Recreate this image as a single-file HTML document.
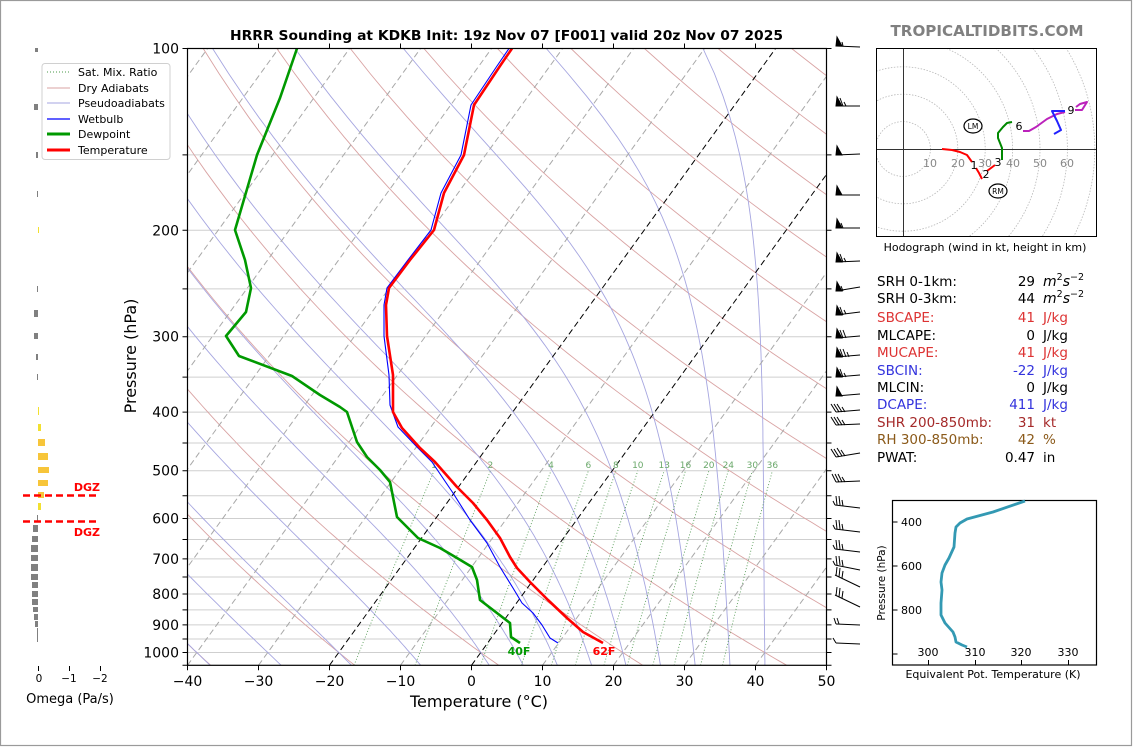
<!DOCTYPE html>
<html><head><meta charset="utf-8">
<style>
html,body{margin:0;padding:0;background:#fff;}
svg{display:block;}
text{font-family:"DejaVu Sans","Liberation Sans",sans-serif;}
.mono{font-family:"DejaVu Sans Mono","Liberation Mono",monospace;font-size:13.5px;}
</style></head><body>
<svg id="s" width="1134" height="748" viewBox="0 0 1134 748" xmlns="http://www.w3.org/2000/svg">
<rect x="0" y="0" width="1134" height="748" fill="#fff"/>
<rect x="0.5" y="0.5" width="1131" height="745" fill="none" stroke="#9a9a9a" stroke-width="1.2"/>
<defs>
<clipPath id="plot"><rect x="187.5" y="48.5" width="639" height="616.8"/></clipPath>
<clipPath id="hodo"><rect x="876.5" y="48.5" width="220" height="188"/></clipPath>
</defs>

<!-- title -->
<text x="230" y="40" font-size="13" font-weight="bold" textLength="553" lengthAdjust="spacingAndGlyphs">HRRR Sounding at KDKB Init: 19z Nov 07 [F001] valid 20z Nov 07 2025</text>
<text x="987" y="36" font-size="15" font-weight="bold" fill="#808080" text-anchor="middle" textLength="193" lengthAdjust="spacingAndGlyphs">TROPICALTIDBITS.COM</text>

<g clip-path="url(#plot)">
  <!-- isobars -->
  <g stroke="#cfcfcf" stroke-width="1">
    <line x1="187.5" x2="826.5" y1="154.9" y2="154.9"/>
    <line x1="187.5" x2="826.5" y1="230.3" y2="230.3"/>
    <line x1="187.5" x2="826.5" y1="288.9" y2="288.9"/>
    <line x1="187.5" x2="826.5" y1="336.7" y2="336.7"/>
    <line x1="187.5" x2="826.5" y1="377.1" y2="377.1"/>
    <line x1="187.5" x2="826.5" y1="412.1" y2="412.1"/>
    <line x1="187.5" x2="826.5" y1="443.0" y2="443.0"/>
    <line x1="187.5" x2="826.5" y1="470.7" y2="470.7"/>
    <line x1="187.5" x2="826.5" y1="495.7" y2="495.7"/>
    <line x1="187.5" x2="826.5" y1="518.5" y2="518.5"/>
    <line x1="187.5" x2="826.5" y1="539.5" y2="539.5"/>
    <line x1="187.5" x2="826.5" y1="558.9" y2="558.9"/>
    <line x1="187.5" x2="826.5" y1="577.0" y2="577.0"/>
    <line x1="187.5" x2="826.5" y1="594.0" y2="594.0"/>
    <line x1="187.5" x2="826.5" y1="609.9" y2="609.9"/>
    <line x1="187.5" x2="826.5" y1="624.9" y2="624.9"/>
    <line x1="187.5" x2="826.5" y1="639.0" y2="639.0"/>
    <line x1="187.5" x2="826.5" y1="652.5" y2="652.5"/>
  </g>
  <g id="bg"></g>
  <!-- isotherms -->
  <g stroke="#a8a8a8" stroke-width="1" stroke-dasharray="6,3.5" fill="none">
    <line x1="-238.5" y1="665.3" x2="207.6" y2="48.5"/>
    <line x1="-167.5" y1="665.3" x2="278.6" y2="48.5"/>
    <line x1="-96.5" y1="665.3" x2="349.6" y2="48.5"/>
    <line x1="-25.5" y1="665.3" x2="420.6" y2="48.5"/>
    <line x1="45.5" y1="665.3" x2="491.6" y2="48.5"/>
    <line x1="116.5" y1="665.3" x2="562.6" y2="48.5"/>
    <line x1="187.5" y1="665.3" x2="633.6" y2="48.5"/>
    <line x1="258.5" y1="665.3" x2="704.6" y2="48.5"/>
    <line x1="400.5" y1="665.3" x2="846.6" y2="48.5"/>
    <line x1="542.5" y1="665.3" x2="988.6" y2="48.5"/>
    <line x1="613.5" y1="665.3" x2="1059.6" y2="48.5"/>
    <line x1="684.5" y1="665.3" x2="1130.6" y2="48.5"/>
    <line x1="755.5" y1="665.3" x2="1201.6" y2="48.5"/>
  </g>
  <g stroke="#000" stroke-width="1" stroke-dasharray="6,3.5" fill="none">
    <line x1="329.5" y1="665.3" x2="775.6" y2="48.5"/>
    <line x1="471.5" y1="665.3" x2="917.6" y2="48.5"/>
  </g>
  <!-- mixing ratio labels -->
  <g font-size="9" fill="#6aa86a" text-anchor="middle">
    <text x="434" y="468">1</text>
    <text x="490.4" y="468">2</text>
    <text x="551" y="468">4</text>
    <text x="588.4" y="468">6</text>
    <text x="615.9" y="468">8</text>
    <text x="637.8" y="468">10</text>
    <text x="664.2" y="468">13</text>
    <text x="685.5" y="468">16</text>
    <text x="708.8" y="468">20</text>
    <text x="728.3" y="468">24</text>
    <text x="752.4" y="468">30</text>
    <text x="772.4" y="468">36</text>
  </g>
  <!-- dewpoint -->
  <polyline fill="none" stroke="#009900" stroke-width="2.6" stroke-linejoin="round" points="297,48.5 280,98 257,155 235,230 245,260 251,288 246,312 226,336 239,356 292,376 320,395 340,407 347,412 357,442 367,457 380,470 390,482 397,517 418,538 440,548 457,558 472,567 477,580 480,600 510,623 511,637 520,643"/>
  <!-- wetbulb -->
  <polyline fill="none" stroke="#0000ff" stroke-width="1.1" stroke-linejoin="round" points="509,48.5 497,66 471,105 461,155 441,193 431,230 408,260 387,288 384,305 384,336 389,375 390,405 398,427 417,447 432,462 453,493 470,520 487,543 500,567 513,588 522,603 533,613 542,625 550,638 558,643"/>
  <!-- temperature -->
  <polyline fill="none" stroke="#ff0000" stroke-width="2.6" stroke-linejoin="round" points="512,48.5 500,66 474,105 464,155 444,193 434,230 410,260 389,288 386,305 387,336 393,375 393,412 402,428 420,448 435,462 457,487 473,503 487,520 500,538 510,557 517,568 530,582 548,600 567,618 583,632 603,643"/>
</g>
<text x="519" y="655" font-size="11" font-weight="bold" fill="#009900" text-anchor="middle">40F</text>
<text x="604" y="655" font-size="11" font-weight="bold" fill="#ff0000" text-anchor="middle">62F</text>

<!-- axes frame -->
<rect x="187.5" y="48.5" width="639" height="616.8" fill="none" stroke="#000" stroke-width="1.2"/>
<g stroke="#000" stroke-width="1">
  <path d="M182.5 48.5H187.5M182.5 154.9H187.5M182.5 230.3H187.5M182.5 288.9H187.5M182.5 336.7H187.5M182.5 377.1H187.5M182.5 412.1H187.5M182.5 443H187.5M182.5 470.7H187.5M182.5 495.7H187.5M182.5 518.5H187.5M182.5 539.5H187.5M182.5 558.9H187.5M182.5 577H187.5M182.5 594H187.5M182.5 609.9H187.5M182.5 624.9H187.5M182.5 639H187.5M182.5 652.5H187.5M182.5 665.3H187.5"/>
  <path d="M826.5 48.5H831.5M826.5 154.9H831.5M826.5 230.3H831.5M826.5 288.9H831.5M826.5 336.7H831.5M826.5 377.1H831.5M826.5 412.1H831.5M826.5 443H831.5M826.5 470.7H831.5M826.5 495.7H831.5M826.5 518.5H831.5M826.5 539.5H831.5M826.5 558.9H831.5M826.5 577H831.5M826.5 594H831.5M826.5 609.9H831.5M826.5 624.9H831.5M826.5 639H831.5M826.5 652.5H831.5M826.5 665.3H831.5"/>
  <path d="M258.5 48.5V43.5M329.5 48.5V43.5M400.5 48.5V43.5M471.5 48.5V43.5M542.5 48.5V43.5M613.5 48.5V43.5M684.5 48.5V43.5M755.5 48.5V43.5"/>
  <path d="M187.5 665.3V670.3M258.5 665.3V670.3M329.5 665.3V670.3M400.5 665.3V670.3M471.5 665.3V670.3M542.5 665.3V670.3M613.5 665.3V670.3M684.5 665.3V670.3M755.5 665.3V670.3M826.5 665.3V670.3"/>
</g>
<g font-size="14" text-anchor="end">
  <text x="179" y="53.5">100</text>
  <text x="179" y="235.3">200</text>
  <text x="179" y="341.7">300</text>
  <text x="179" y="417.1">400</text>
  <text x="179" y="475.7">500</text>
  <text x="179" y="523.5">600</text>
  <text x="179" y="563.9">700</text>
  <text x="179" y="599">800</text>
  <text x="179" y="629.9">900</text>
  <text x="179" y="657.5">1000</text>
</g>
<g font-size="14" text-anchor="middle">
  <text x="187.5" y="686">−40</text>
  <text x="258.5" y="686">−30</text>
  <text x="329.5" y="686">−20</text>
  <text x="400.5" y="686">−10</text>
  <text x="471.5" y="686">0</text>
  <text x="542.5" y="686">10</text>
  <text x="613.5" y="686">20</text>
  <text x="684.5" y="686">30</text>
  <text x="755.5" y="686">40</text>
  <text x="826.5" y="686">50</text>
</g>
<text x="479" y="707" font-size="16" text-anchor="middle">Temperature (°C)</text>
<text transform="translate(136,356) rotate(-90)" font-size="16" text-anchor="middle">Pressure (hPa)</text>

<!-- legend -->
<rect x="42" y="63.5" width="128" height="96" rx="3" fill="#fff" fill-opacity="0.85" stroke="#d0d0d0"/>
<line x1="47" x2="70" y1="72" y2="72" stroke="#4a9a4a" stroke-width="1" stroke-dasharray="1,2"/>
<line x1="47" x2="70" y1="88" y2="88" stroke="#d9a3a3" stroke-width="1"/>
<line x1="47" x2="70" y1="103" y2="103" stroke="#a6a6e0" stroke-width="1"/>
<line x1="47" x2="70" y1="119" y2="119" stroke="#0000ff" stroke-width="1.2"/>
<line x1="47" x2="70" y1="134" y2="134" stroke="#009900" stroke-width="3"/>
<line x1="47" x2="70" y1="150" y2="150" stroke="#ff0000" stroke-width="3"/>
<g font-size="11">
  <text x="78" y="76">Sat. Mix. Ratio</text>
  <text x="78" y="92">Dry Adiabats</text>
  <text x="78" y="107">Pseudoadiabats</text>
  <text x="78" y="123">Wetbulb</text>
  <text x="78" y="138">Dewpoint</text>
  <text x="78" y="154">Temperature</text>
</g>

<!-- omega panel -->
<g fill="#808080">
  <rect x="35" y="48" width="3" height="4"/>
  <rect x="34" y="104" width="4" height="6"/>
  <rect x="36" y="152" width="2" height="6"/>
  <rect x="37" y="191" width="1" height="6"/>
  <rect x="37" y="286" width="1" height="6"/>
  <rect x="34" y="310" width="4" height="7"/>
  <rect x="34" y="333" width="4" height="6"/>
  <rect x="36" y="354" width="2" height="6"/>
  <rect x="37" y="374" width="1" height="6"/>
  <rect x="37" y="515" width="1" height="7"/>
  <rect x="33" y="525" width="5" height="7"/>
  <rect x="32" y="536" width="6" height="6"/>
  <rect x="31" y="545" width="7" height="7"/>
  <rect x="31" y="555" width="7" height="6"/>
  <rect x="31" y="564" width="7" height="7"/>
  <rect x="31" y="574" width="7" height="6"/>
  <rect x="32" y="582" width="6" height="6"/>
  <rect x="32" y="591" width="6" height="6"/>
  <rect x="32" y="599" width="6" height="6"/>
  <rect x="33" y="607" width="5" height="5"/>
  <rect x="34" y="614" width="4" height="6"/>
  <rect x="35" y="621" width="3" height="6"/>
  <rect x="37" y="628" width="1" height="14"/>
</g>
<g fill="#f2e030">
  <rect x="38" y="227" width="1" height="6"/>
  <rect x="38" y="407" width="1" height="8"/>
  <rect x="38" y="424" width="3" height="7"/>
  <rect x="38" y="503" width="3" height="7"/>
</g>
<g fill="#f7c53a">
  <rect x="38" y="439" width="7" height="7"/>
  <rect x="38" y="453" width="10" height="7"/>
  <rect x="38" y="467" width="11" height="6"/>
  <rect x="38" y="480" width="10" height="6"/>
  <rect x="38" y="492" width="6" height="6"/>
</g>
<g stroke="#ff0000" stroke-width="2.5" stroke-dasharray="7,4">
  <line x1="23" x2="99" y1="495.5" y2="495.5"/>
  <line x1="23" x2="99" y1="521.5" y2="521.5"/>
</g>
<g font-size="11" font-weight="bold" fill="#ff0000" text-anchor="end">
  <text x="100" y="491">DGZ</text>
  <text x="100" y="536">DGZ</text>
</g>
<g stroke="#000" stroke-width="1">
  <path d="M38.5 666V671M69.5 666V671M100.5 666V671"/>
</g>
<g font-size="10.5" text-anchor="middle">
  <text x="39" y="682">0</text>
  <text x="69" y="682">−1</text>
  <text x="100" y="682">−2</text>
</g>
<text x="70" y="703" font-size="13" text-anchor="middle">Omega (Pa/s)</text>

<!-- wind barbs -->
<g stroke="#000" stroke-width="1" fill="#000">
  <g transform="translate(836,46)"><line x1="0" y1="0" x2="24" y2="1"/><polygon points="0,0 6,0 1,-9"/><line x1="7" y1="0" x2="6" y2="-4"/></g>
  <g transform="translate(836,106)"><line x1="0" y1="0" x2="24" y2="0"/><polygon points="0,0 6,0 1,-9"/><line x1="7" y1="0" x2="4" y2="-8"/><line x1="10" y1="0" x2="8" y2="-4"/></g>
  <g transform="translate(836,155)"><line x1="0" y1="0" x2="24" y2="-1"/><polygon points="0,0 6,0 1,-9"/></g>
  <g transform="translate(836,195)"><line x1="0" y1="0" x2="24" y2="0"/><polygon points="0,0 6,0 1,-9"/></g>
  <g transform="translate(836,228)"><line x1="0" y1="0" x2="24" y2="0"/><polygon points="0,0 6,0 1,-9"/><line x1="7" y1="0" x2="5" y2="-5"/></g>
  <g transform="translate(836,262)"><line x1="0" y1="0" x2="24" y2="-1"/><polygon points="0,0 6,0 1,-9"/><line x1="7" y1="0" x2="4" y2="-8"/><line x1="10" y1="0" x2="8" y2="-4"/></g>
  <g transform="translate(836,291)"><line x1="0" y1="0" x2="24" y2="-4"/><polygon points="0,0 6,0 1,-9"/><line x1="7" y1="0" x2="5" y2="-5"/></g>
  <g transform="translate(836,315)"><line x1="0" y1="0" x2="24" y2="-3"/><polygon points="0,0 6,0 1,-9"/><line x1="7" y1="0" x2="4" y2="-8"/><line x1="10" y1="-1" x2="8" y2="-5"/></g>
  <g transform="translate(836,338)"><line x1="0" y1="0" x2="24" y2="-2"/><polygon points="0,0 6,0 1,-9"/><line x1="7" y1="0" x2="4" y2="-8"/><line x1="10" y1="0" x2="7" y2="-8"/></g>
  <g transform="translate(836,357)"><line x1="0" y1="0" x2="24" y2="-2"/><polygon points="0,0 6,0 1,-9"/><line x1="7" y1="0" x2="4" y2="-8"/><line x1="10" y1="0" x2="7" y2="-8"/><line x1="13" y1="0" x2="11" y2="-5"/></g>
  <g transform="translate(836,377)"><line x1="0" y1="0" x2="24" y2="-2"/><polygon points="0,0 6,0 1,-9"/><line x1="7" y1="0" x2="4" y2="-8"/><line x1="10" y1="0" x2="8" y2="-4"/></g>
  <g transform="translate(836,396)"><line x1="0" y1="0" x2="24" y2="-2"/><polygon points="0,0 6,0 1,-9"/></g>
  <g transform="translate(836,412)"><line x1="0" y1="0" x2="24" y2="-2"/><line x1="0" y1="0" x2="-5" y2="-8"/><line x1="3" y1="0" x2="-2" y2="-8"/><line x1="6" y1="0" x2="1" y2="-8"/><line x1="9" y1="0" x2="6" y2="-5"/></g>
  <g transform="translate(836,425)"><line x1="0" y1="0" x2="24" y2="-1"/><line x1="0" y1="0" x2="-5" y2="-8"/><line x1="3" y1="0" x2="-2" y2="-8"/><line x1="6" y1="0" x2="1" y2="-8"/><line x1="9" y1="0" x2="6" y2="-5"/></g>
  <g transform="translate(836,457)"><line x1="0" y1="0" x2="24" y2="-4"/><line x1="0" y1="0" x2="-5" y2="-8"/><line x1="3" y1="0" x2="-2" y2="-8"/><line x1="6" y1="-1" x2="1" y2="-9"/><line x1="9" y1="-1" x2="5" y2="-7"/></g>
  <g transform="translate(836,482)"><line x1="0" y1="0" x2="24" y2="-1"/><line x1="0" y1="0" x2="-4" y2="-8"/><line x1="3" y1="0" x2="-1" y2="-8"/><line x1="6" y1="0" x2="2" y2="-8"/><line x1="9" y1="0" x2="6" y2="-5"/></g>
  <g transform="translate(835,505)"><line x1="-2" y1="-4" x2="0" y2="0"/><line x1="0" y1="0" x2="25" y2="3"/><line x1="2" y1="0" x2="1" y2="-9"/><line x1="5" y1="0" x2="4" y2="-9"/><line x1="8" y1="1" x2="7" y2="-5"/></g>
  <g transform="translate(835,529)"><line x1="-2" y1="-4" x2="0" y2="0"/><line x1="0" y1="0" x2="25" y2="3"/><line x1="2" y1="0" x2="1" y2="-9"/><line x1="5" y1="0" x2="4" y2="-9"/><line x1="8" y1="1" x2="7" y2="-5"/></g>
  <g transform="translate(835,549)"><line x1="-2" y1="-4" x2="0" y2="0"/><line x1="0" y1="0" x2="25" y2="3"/><line x1="2" y1="0" x2="1" y2="-9"/><line x1="5" y1="0" x2="4" y2="-9"/><line x1="8" y1="1" x2="7" y2="-5"/></g>
  <g transform="translate(835,565)"><line x1="-2" y1="-4" x2="0" y2="0"/><line x1="0" y1="0" x2="25" y2="5"/><line x1="2" y1="0" x2="1" y2="-9"/><line x1="5" y1="0" x2="4" y2="-9"/><line x1="8" y1="1" x2="7" y2="-5"/></g>
  <g transform="translate(835,575)"><line x1="0" y1="0" x2="25" y2="12"/><line x1="1" y1="1" x2="2" y2="-8"/><line x1="4" y1="2" x2="5" y2="-7"/><line x1="7" y1="3" x2="8" y2="-4"/></g>
  <g transform="translate(835,595)"><line x1="0" y1="0" x2="25" y2="12"/><line x1="1" y1="1" x2="2" y2="-8"/><line x1="4" y1="2" x2="5" y2="-7"/><line x1="7" y1="3" x2="8" y2="-4"/></g>
  <g transform="translate(836,624)"><line x1="-2" y1="-6" x2="0" y2="0"/><line x1="0" y1="0" x2="24" y2="1"/><line x1="3" y1="0" x2="1" y2="-6"/></g>
  <g transform="translate(836,643)"><line x1="-3" y1="-5" x2="0" y2="0"/><line x1="0" y1="0" x2="24" y2="1"/></g>
</g>

<!-- hodograph -->
<g clip-path="url(#hodo)">
  <g fill="none" stroke="#b8b8b8" stroke-width="0.8" stroke-dasharray="1.5,1.5">
    <circle cx="903" cy="149" r="27.4"/>
    <circle cx="903" cy="149" r="54.8"/>
    <circle cx="903" cy="149" r="82.2"/>
    <circle cx="903" cy="149" r="109.6"/>
    <circle cx="903" cy="149" r="137"/>
    <circle cx="903" cy="149" r="164.4"/>
    <circle cx="903" cy="149" r="191.8"/>
  </g>
  <line x1="903.5" x2="903.5" y1="48" y2="237" stroke="#333" stroke-width="1"/>
  <line x1="876" x2="1097" y1="149.5" y2="149.5" stroke="#333" stroke-width="1"/>
</g>
<g font-size="11" fill="#888" text-anchor="middle">
  <text x="930" y="167">10</text>
  <text x="958" y="167">20</text>
  <text x="985" y="167">30</text>
  <text x="1013" y="167">40</text>
  <text x="1040" y="167">50</text>
  <text x="1067" y="167">60</text>
</g>
<rect x="876.5" y="48.5" width="220" height="188" fill="none" stroke="#000" stroke-width="1"/>
<g fill="none" stroke-width="2" stroke-linejoin="round">
  <polyline stroke="#ff0000" points="942,149 952,150 960,152 967,155 972,162"/>
  <polyline stroke="#ff0000" points="976,168 979,173 982,179"/>
  <polyline stroke="#ff0000" points="987,171 995,165"/>
  <polyline stroke="#008800" points="1002,160 1002,148 998,138 998,133 1003,127 1007,123 1012,122"/>
  <polyline stroke="#bb22bb" points="1023,131 1029,131 1036,127 1047,119 1057,114 1065,112"/>
  <polyline stroke="#bb22bb" points="1075,110 1082,110 1087,102 1080,104 1076,107"/>
  <polyline stroke="#2222ff" points="1054,134 1061,130 1057,121 1052,111 1065,111"/>
</g>
<g font-size="11" fill="#000" text-anchor="middle">
  <text x="974" y="169">1</text>
  <text x="986" y="178">2</text>
  <text x="998" y="166">3</text>
  <text x="1019" y="130">6</text>
  <text x="1071" y="114">9</text>
</g>
<ellipse cx="973" cy="126" rx="9" ry="7" fill="#fff" stroke="#000" stroke-width="1.2"/>
<text x="973" y="129" font-size="7.5" text-anchor="middle">LM</text>
<ellipse cx="998" cy="191" rx="9" ry="7" fill="#fff" stroke="#000" stroke-width="1.2"/>
<text x="998" y="194" font-size="7.5" text-anchor="middle">RM</text>
<text x="985" y="251" font-size="11" text-anchor="middle">Hodograph (wind in kt, height in km)</text>

<!-- stats panel -->
<g class="mono">
  <text x="877" y="286">SRH 0-1km:</text>
  <text x="1035" y="286" text-anchor="end">29</text>
  <text x="877" y="303">SRH 0-3km:</text>
  <text x="1035" y="303" text-anchor="end">44</text>
  <g fill="#dd3333">
    <text x="877" y="322">SBCAPE:</text><text x="1035" y="322" text-anchor="end">41</text><text x="1043" y="322">J/kg</text>
  </g>
  <text x="877" y="340">MLCAPE:</text><text x="1035" y="340" text-anchor="end">0</text><text x="1043" y="340">J/kg</text>
  <g fill="#dd3333">
    <text x="877" y="357">MUCAPE:</text><text x="1035" y="357" text-anchor="end">41</text><text x="1043" y="357">J/kg</text>
  </g>
  <g fill="#3333dd">
    <text x="877" y="375">SBCIN:</text><text x="1035" y="375" text-anchor="end">-22</text><text x="1043" y="375">J/kg</text>
  </g>
  <text x="877" y="392">MLCIN:</text><text x="1035" y="392" text-anchor="end">0</text><text x="1043" y="392">J/kg</text>
  <g fill="#3333dd">
    <text x="877" y="409">DCAPE:</text><text x="1035" y="409" text-anchor="end">411</text><text x="1043" y="409">J/kg</text>
  </g>
  <g fill="#a52a2a">
    <text x="877" y="427">SHR 200-850mb:</text><text x="1035" y="427" text-anchor="end">31</text><text x="1043" y="427">kt</text>
  </g>
  <g fill="#8b5a1a">
    <text x="877" y="444">RH 300-850mb:</text><text x="1035" y="444" text-anchor="end">42</text><text x="1043" y="444">%</text>
  </g>
  <text x="877" y="462">PWAT:</text><text x="1035" y="462" text-anchor="end">0.47</text><text x="1043" y="462">in</text>
</g>
<text x="1043" y="286" font-size="14" font-style="italic">m<tspan dy="-6" font-size="9.5" font-style="normal">2</tspan><tspan dy="6">s</tspan><tspan dy="-6" font-size="9.5" font-style="normal">−2</tspan></text>
<text x="1043" y="303" font-size="14" font-style="italic">m<tspan dy="-6" font-size="9.5" font-style="normal">2</tspan><tspan dy="6">s</tspan><tspan dy="-6" font-size="9.5" font-style="normal">−2</tspan></text>

<!-- theta-e inset -->
<rect x="892.5" y="500.5" width="204" height="164.5" fill="none" stroke="#000" stroke-width="1.2"/>
<g stroke="#000" stroke-width="1">
  <path d="M892.5 522H897.5M892.5 566H897.5M892.5 610H897.5M892.5 654H897.5"/>
  <path d="M928.5 665V660M975.5 665V660M1021.5 665V660M1068.5 665V660"/>
</g>
<g font-size="11">
  <text x="901" y="526">400</text>
  <text x="901" y="570">600</text>
  <text x="901" y="614">800</text>
</g>
<g font-size="11" text-anchor="middle">
  <text x="928" y="656">300</text>
  <text x="975" y="656">310</text>
  <text x="1021" y="656">320</text>
  <text x="1068" y="656">330</text>
</g>
<polyline fill="none" stroke="#3399b3" stroke-width="2.8" stroke-linejoin="round" points="1025,501 993,512 967,519 960,523 956,527 955,533 954,547 949,558 945,565 942,573 941,582 942,590 941,603 941,615 945,623 953,632 955,637 956,642 962,645 967,647"/>
<text transform="translate(885,583) rotate(-90)" font-size="10.5" text-anchor="middle">Pressure (hPa)</text>
<text x="993" y="678" font-size="11" text-anchor="middle">Equivalent Pot. Temperature (K)</text>
</svg>
<script>
(function(){
var NS='http://www.w3.org/2000/svg';
var g=document.getElementById('bg');
function Y(p){return 48.5+604*Math.log(p/100)/Math.LN10;}
function X(T,p){return 187.5+(T+40)*7.1+0.723*(665.3-Y(p));}
function add(pts,stroke,w,dash){var d='';for(var i=0;i<pts.length;i++){d+=(i?'L':'M')+pts[i][0].toFixed(1)+' '+pts[i][1].toFixed(1);}var e=document.createElementNS(NS,'path');e.setAttribute('d',d);e.setAttribute('fill','none');e.setAttribute('stroke',stroke);e.setAttribute('stroke-width',w);if(dash)e.setAttribute('stroke-dasharray',dash);g.appendChild(e);}
var P=[];for(var p=1050;p>=100;p-=10)P.push(p);
var t0,i;
for(t0=-40;t0<=260;t0+=20){(function(th){add(P.map(function(p){return [X(th*Math.pow(p/1000,0.28571)-273.15,p),Y(p)];}),'#d9a3a3',0.9);})(t0+273.15);}
function es(Tc){return 6.112*Math.exp(17.67*Tc/(Tc+243.5));}
function f(p,T){var e=es(T-273.15);if(e>p*0.5)e=p*0.5;var rs=0.622*e/(p-e);var Rd=287.04,Cp=1005.7,L=2.501e6;return (Rd*T+L*rs)/(Cp+L*L*rs*0.622/(Rd*T*T))/p;}
function integ(t,p0,p1,h,rec){var T=t,p=p0;rec[p0]=T;while((h<0&&p>p1)||(h>0&&p<p1)){var k1=f(p,T),k2=f(p+h/2,T+h/2*k1),k3=f(p+h/2,T+h/2*k2),k4=f(p+h,T+h*k3);T+=h/6*(k1+2*k2+2*k3+k4);p+=h;var r=Math.round(p);if(r%10===0)rec[r]=T;}}
var M=[-40,-30,-20,-10,0,5,10,15,20,25,30,35,40];
for(i=0;i<M.length;i++){var rec={};integ(M[i]+273.15,1000,100,-2,rec);integ(M[i]+273.15,1000,1050,2,rec);
 var pts=[];for(var j=0;j<P.length;j++){if(rec[P[j]]!==undefined)pts.push([X(rec[P[j]]-273.15,P[j]),Y(P[j])]);}
 add(pts,'#a6a6e0',0.9);}
var W=[1,2,4,6,8,10,13,16,20,24,30,36];
for(i=0;i<W.length;i++){var w=W[i],pts2=[];for(var pp=1050;pp>=500;pp-=10){var e=w*pp/(622+w);var l=Math.log(e/6.112);var Td=243.5*l/(17.67-l);pts2.push([X(Td,pp),Y(pp)]);}add(pts2,'#5a9e5a',0.9,'1,2');}
})();
</script>
</body></html>
